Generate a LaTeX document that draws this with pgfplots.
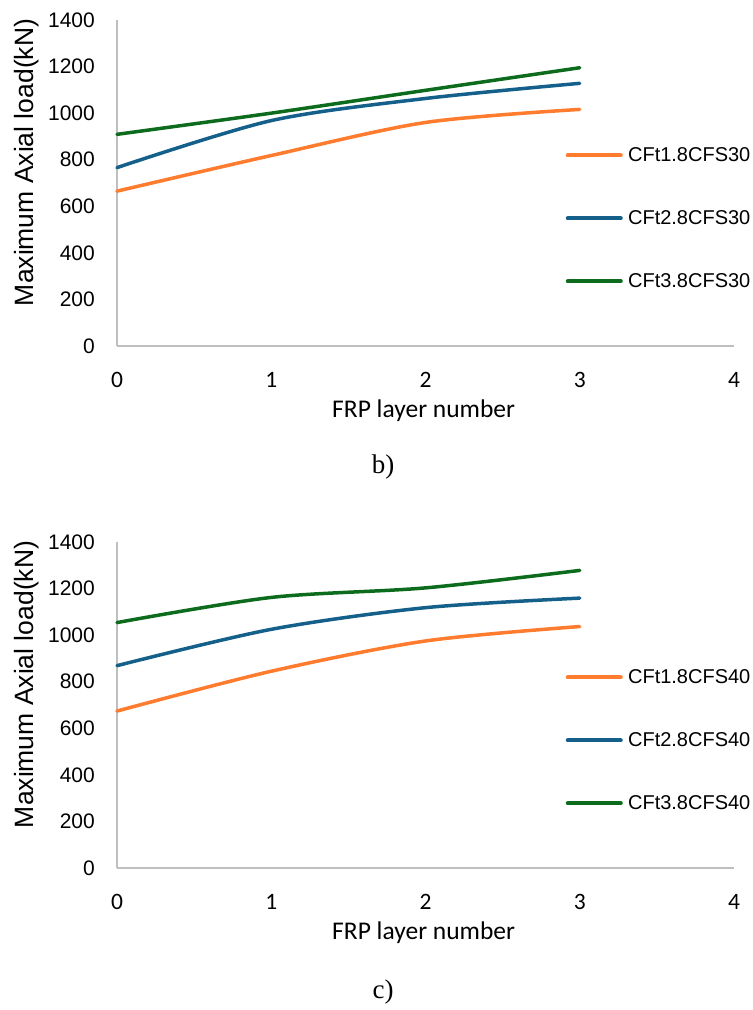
\documentclass[border=0pt]{standalone}
\usepackage{pgfplots}
\pgfplotsset{compat=1.18}
\usepackage{fontspec}
\setmainfont{Liberation Sans}
\newfontfamily\carl{Carlito}
\newfontfamily\serifcap{Liberation Serif}
\definecolor{corange}{HTML}{FF7B2E}
\definecolor{cblue}{HTML}{14608A}
\definecolor{cgreen}{HTML}{0C6B1C}
\definecolor{caxis}{HTML}{BFBFBF}
\pgfplotsset{
  mystyle/.style={
    scale only axis, width=617bp, height=326bp,
    xmin=0, xmax=4, ymin=0, ymax=1400,
    xtick={0,1,2,3,4}, ytick={0,200,...,1400},
    axis x line*=bottom, axis y line*=left,
    axis line style={caxis, line width=1.3bp},
    x axis line style={-}, y axis line style={-},
    major tick length=0pt,
    /pgf/number format/1000 sep={},
    xticklabel style={font=\carl\fontsize{23.5bp}{26bp}\selectfont, anchor=center, yshift=-34bp, inner sep=0pt},
    yticklabel style={font=\fontsize{21bp}{24bp}\selectfont, anchor=east, xshift=-22bp, inner sep=0pt},
    /pgf/number format/assume math mode=true,
    xlabel={FRP layer number}, ylabel={Maximum Axial load(kN)},
    xlabel style={font=\carl\fontsize{25.5bp}{28bp}\selectfont, at={(axis description cs:0.497,0)}, anchor=center, yshift=-65bp, inner sep=0pt},
    ylabel style={font=\fontsize{26.5bp}{30bp}\selectfont, at={(axis description cs:-0.146,0.563)}, anchor=center, rotate=0, inner sep=0pt},
    every axis plot/.append style={line width=3.5bp, line cap=round, smooth, tension=0.5, no markers},
    legend style={draw=none, fill=none, at={(axis description cs:0.727,0.615)}, anchor=north west,
      font=\fontsize{20bp}{23bp}\selectfont, row sep=43.5bp, inner sep=0pt,
      /tikz/every even column/.append style={column sep=0pt}},
    legend cell align=left,
    legend image code/.code={\draw[#1, line width=4bp] (0bp,0bp) -- (53bp,0bp);},
    clip=false,
  }
}
\begin{document}
\begin{tikzpicture}
\path[use as bounding box] (-117bp,-664bp) rectangle (636bp,346bp);
\begin{axis}[mystyle, at={(0bp,0bp)}, anchor=origin]
\addplot[corange] coordinates {(0,665) (1,818) (2,960) (3,1016)};
\addlegendentry{\,CFt1.8CFS30}
\addplot[cblue] coordinates {(0,766) (1,968) (2,1063) (3,1128)};
\addlegendentry{\,CFt2.8CFS30}
\addplot[cgreen] coordinates {(0,909) (1,1000) (2,1098) (3,1195)};
\addlegendentry{\,CFt3.8CFS30}
\end{axis}
\node[font=\serifcap\fontsize{27bp}{30bp}\selectfont] at (266bp,-121bp) {b)};
\begin{axis}[mystyle, at={(0bp,-522bp)}, anchor=origin]
\addplot[corange] coordinates {(0,674) (1,845) (2,975) (3,1037)};
\addlegendentry{\,CFt1.8CFS40}
\addplot[cblue] coordinates {(0,869) (1,1025) (2,1118) (3,1159)};
\addlegendentry{\,CFt2.8CFS40}
\addplot[cgreen] coordinates {(0,1054) (1,1162) (2,1203) (3,1278)};
\addlegendentry{\,CFt3.8CFS40}
\end{axis}
\node[font=\serifcap\fontsize{27bp}{30bp}\selectfont] at (266bp,-646bp) {c)};
\end{tikzpicture}
\end{document}
